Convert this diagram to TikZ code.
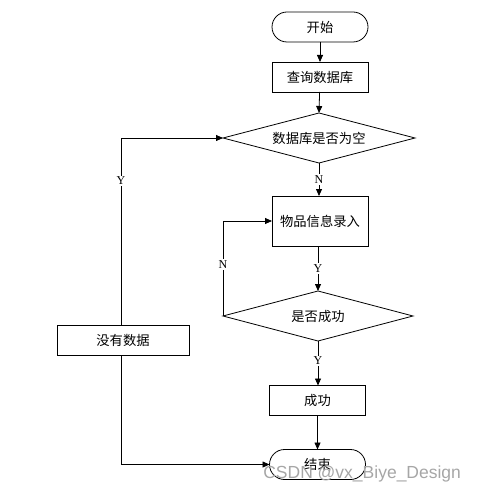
\documentclass[tikz,border=0pt]{standalone}
\usepackage{fontspec}
\setmainfont{Liberation Serif}
\newfontfamily\cjk{Noto Sans CJK SC}
\newfontfamily\wm{Liberation Sans}
\usetikzlibrary{arrows.meta,shapes.geometric}
\begin{document}
\begin{tikzpicture}[x=1pt,y=-1pt,
  every node/.style={inner sep=0pt,outer sep=0pt},
  box/.style={draw,line width=0.8pt,minimum width=96pt,minimum height=30pt,font=\cjk\fontsize{13.3}{15}\selectfont},
  term/.style={box,rounded corners=15pt},
  dec/.style={draw,line width=0.8pt,diamond,aspect=3.84,minimum width=192pt,minimum height=50pt,font=\cjk\fontsize{13.3}{15}\selectfont},
  lab/.style={fill=white,inner sep=1.5pt,font=\fontsize{12}{14}\selectfont},
  arr/.style={line width=0.8pt,-{Triangle[length=7pt,width=6pt]}},
  ln/.style={line width=0.8pt}]
\useasboundingbox (0,0) rectangle (476,494);
\node[term] (start) at (320,27) {开始};
\node[box] (query) at (320,77) {查询数据库};
\node[dec] (d1) at (319,138) {数据库是否为空};
\node[box,minimum height=50pt] (input) at (320,221) {物品信息录入};
\node[dec,minimum width=190pt] (d2) at (318,316) {是否成功};
\node[box,minimum width=132pt] (nodata) at (123,340) {没有数据};
\node[box] (succ) at (317.5,400.5) {成功};
\node[term] (end) at (317.5,464.5) {结束};
\coordinate (c1) at (121,138);
\coordinate (c2) at (121,464.5);
\coordinate (c3) at (223,221);
% connectors
\draw[arr] (start) -- (query);
\draw[arr] (query) -- (d1.north);
\draw[arr] (d1.south) -- node[lab] {N} (input.north -| d1.south);
\draw[arr] (input.south -| d2.north) -- node[lab] {Y} (d2.north);
\draw[arr] (d2.south) -- node[lab,pos=0.45] {Y} (succ.north -| d2.south);
\draw[arr] (succ) -- (end);
\draw[arr] (nodata.north -| c1) -- node[lab,pos=0.77] {Y} (c1) -- (d1.west);
\draw[arr] (d2.west) -- node[lab,pos=0.54] {N} (c3) -- (input.west);
\draw[arr] (nodata.south -| c1) -- (c2) -- (end.west);
\node[font=\wm\fontsize{17.5}{19}\selectfont,text=black!35,anchor=east] (wm) at (461,474) {CSDN @vx\_Biye\_Design};
\end{tikzpicture}
\end{document}
